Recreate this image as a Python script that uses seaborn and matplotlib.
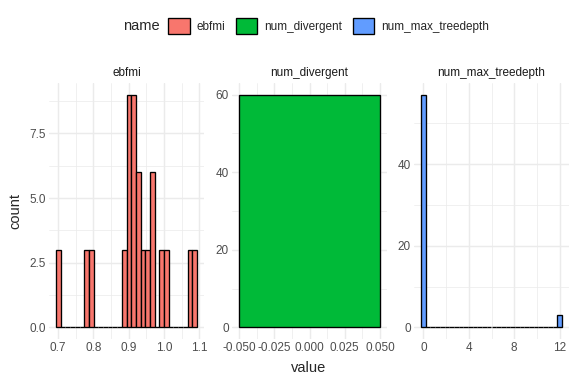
import numpy as np
import pandas as pd
import matplotlib
matplotlib.use("Agg")
import matplotlib.pyplot as plt
from matplotlib.patches import Patch
from matplotlib.ticker import FixedLocator, FuncFormatter
import seaborn as sns

# ---- data (30-bin histograms) ----
panel_names = ["ebfmi", "num_divergent", "num_max_treedepth"]
panel_colors = ["#F8766D", "#00BA38", "#619CFF"]

ebfmi_range = (0.7007, 1.0864)       # data min / max
ebfmi_counts = [3, 0, 0, 0, 0, 0, 3, 3, 0, 0,
                0, 0, 0, 0, 3, 9, 9, 6, 3, 3,
                6, 0, 3, 3, 0, 0, 0, 0, 3, 3]

divergent_range = (-0.05, 0.05)      # all values equal to 0
divergent_counts = [60]

treedepth_range = (0.0, 12.0)
treedepth_counts = [57] + [0] * 28 + [3]

sns.set_style("white")
plt.rcParams['font.family'] = ['Liberation Sans', 'DejaVu Sans']

fig = plt.figure(figsize=(6, 4), dpi=96)
W, H = 576, 384

def edges_for(rng, counts):
    n = len(counts)
    lo, hi = rng
    if n == 1:
        return np.array([lo, hi])
    w = (hi - lo) / (n - 1)
    return np.linspace(lo - w / 2, hi + w / 2, n + 1)

datasets = [
    (ebfmi_range, ebfmi_counts),
    (divergent_range, divergent_counts),
    (treedepth_range, treedepth_counts),
]

panel_left_px = [49, 232, 414]
panel_w_px = 155
top_px, bot_px = 83, 339

xmajor = [[0.7, 0.8, 0.9, 1.0, 1.1],
          [-0.05, -0.025, 0.0, 0.025, 0.05],
          [0, 4, 8, 12]]
xfmt = [lambda v, p: f"{v:.1f}",
        lambda v, p: f"{v:.3f}",
        lambda v, p: f"{v:.0f}"]
ymajor = [[0, 2.5, 5.0, 7.5], [0, 20, 40, 60], [0, 20, 40]]
yfmt = [lambda v, p: f"{v:.1f}", lambda v, p: f"{v:.0f}", lambda v, p: f"{v:.0f}"]

axes = []
for i, ((rng, counts), name, col) in enumerate(zip(datasets, panel_names, panel_colors)):
    ax = fig.add_axes([panel_left_px[i] / W, (H - bot_px) / H,
                       panel_w_px / W, (bot_px - top_px) / H])
    edges = edges_for(rng, counts)
    centers = (edges[:-1] + edges[1:]) / 2
    df = pd.DataFrame({"value": centers, "n": np.asarray(counts, dtype=float)})
    sns.histplot(data=df, x="value", weights="n", bins=list(edges), color=col,
                 edgecolor="black", linewidth=1.0, alpha=1, ax=ax, zorder=3)
    xr = edges[-1] - edges[0]
    ax.set_xlim(edges[0] - 0.05 * xr, edges[-1] + 0.05 * xr)
    ymax = max(counts)
    ax.set_ylim(-0.05 * ymax, 1.05 * ymax)
    ax.xaxis.set_major_locator(FixedLocator(xmajor[i]))
    ax.xaxis.set_major_formatter(FuncFormatter(xfmt[i]))
    xm = np.array(xmajor[i])
    step = xm[1] - xm[0]
    xminor = np.arange(xm[0] - step / 2, xm[-1] + step, step)
    ax.xaxis.set_minor_locator(FixedLocator(xminor))
    ax.yaxis.set_major_locator(FixedLocator(ymajor[i]))
    ax.yaxis.set_major_formatter(FuncFormatter(yfmt[i]))
    ym = np.array(ymajor[i])
    ystep = ym[1] - ym[0]
    yminor = np.arange(ym[0] + ystep / 2, ym[-1] + 2 * ystep, ystep)
    ax.yaxis.set_minor_locator(FixedLocator(yminor))
    ax.grid(which="major", color="#EBEBEB", linewidth=1.07, zorder=0)
    ax.grid(which="minor", color="#EBEBEB", linewidth=0.53, zorder=0)
    ax.set_axisbelow(True)
    for s in ax.spines.values():
        s.set_visible(False)
    ax.tick_params(which="both", length=0, labelsize=8.8, labelcolor="#4D4D4D", pad=2.5)
    ax.set_xlabel("")
    ax.set_ylabel("")
    ax.set_title(name, fontsize=8.8, color="#1A1A1A", pad=5)
    axes.append(ax)

fig.text(309 / W, 1 - 368 / H, "value", ha="center", va="center", fontsize=11)
fig.text(15 / W, 1 - 211 / H, "count", ha="center", va="center", fontsize=11, rotation=90)

handles = [Patch(facecolor=c, edgecolor="black", linewidth=1.0) for c in panel_colors]
leg = fig.legend(handles, panel_names, loc="center", bbox_to_anchor=(328.5 / W, 1 - 26 / H),
                 ncol=3, frameon=False, fontsize=8.8, handlelength=1.8, handleheight=1.8,
                 handletextpad=0.6, columnspacing=0.9, borderaxespad=0)
fig.text(123 / W, 1 - 26 / H, "name", ha="left", va="center", fontsize=11)

fig.savefig("out.png", dpi=96)
